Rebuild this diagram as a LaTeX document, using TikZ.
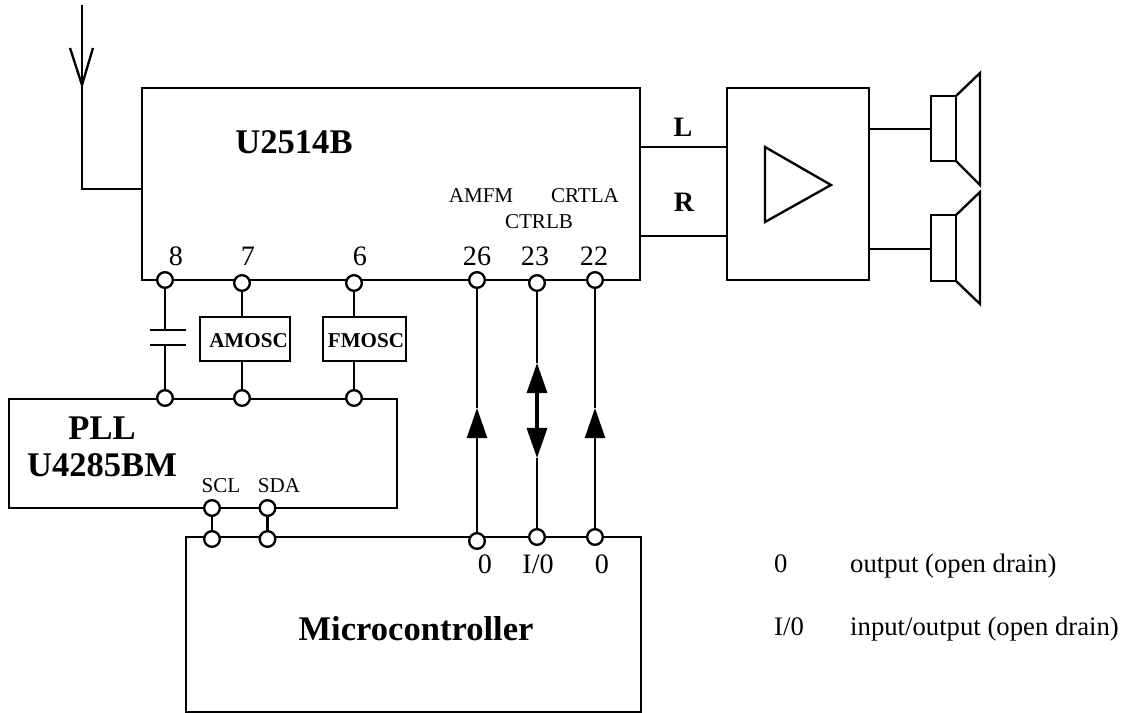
\documentclass[tikz,border=0pt]{standalone}
\usepackage{fontspec}
\setmainfont{Liberation Serif}
\usetikzlibrary{arrows.meta,positioning}
\tikzset{
  wire/.style={line width=2pt},
  pin/.style={circle, draw, fill=white, line width=2pt, inner sep=0pt, minimum size=0.47cm},
  blockbox/.style={draw, line width=2pt, fill=white, inner sep=0pt},
  tiptri/.style={-{Triangle[length=0.9cm,width=0.6cm]}},
  chiplabel/.style={font=\bfseries\fontsize{29.5}{31}\selectfont, align=center},
  osclabel/.style={font=\bfseries\fontsize{18}{18}\selectfont},
  siglabel/.style={font=\fontsize{18}{18}\selectfont},
  pinlabel/.style={font=\fontsize{24}{24}\selectfont},
  legendlabel/.style={font=\fontsize{22.8}{22.8}\selectfont, anchor=base west, inner sep=0pt}
}

\begin{document}
\begin{tikzpicture}[x=0.03cm,y=-0.03cm]
  \useasboundingbox (0,0) rectangle (1126,713);
  % main blocks
  \node[blockbox, minimum width=14.94cm, minimum height=5.76cm] (tuner) at (391,184) {};
  \node[blockbox, minimum width=11.64cm, minimum height=3.27cm] (pll) at (203,453.5) {};
  \node[blockbox, minimum width=4.26cm, minimum height=5.76cm] (amp) at (798,184) {};
  \node[blockbox, minimum width=2.7cm, minimum height=1.32cm] (amosc) at (245,339) {};
  \node[blockbox, minimum width=2.49cm, minimum height=1.32cm] (fmosc) at (364.5,339) {};
  \node[blockbox, minimum width=13.65cm, minimum height=5.25cm] (mcu) at (413.5,624.5) {};
  % pins
  \foreach \name/\x/\y in {
    p8/165/280, p7/242/283, p6/354/283,
    p26/477/280, p23/537/283, p22/595/280,
    q8/165/398, q7/242/398, q6/354/398,
    scl/212/508, sda/267.5/508, mscl/212/539, msda/267.5/539,
    m26/477/541, m23/537/537, m22/595/537} {
    \node[pin] (\name) at (\x,\y) {};
  }
  % antenna
  \coordinate (antTop) at (82,5);
  \coordinate (antTip) at (82,85);
  \coordinate (antCorner) at (82,189);
  \coordinate (antL) at (70,48);
  \coordinate (antR) at (93,48);
  \coordinate (tunerIn) at (142,189);
  \draw[wire] (antTop) -- (antCorner) -- (tunerIn);
  \draw[wire, line join=miter] (antL) -- (antTip) -- (antR);
  % capacitor and oscillators
  \coordinate (capT) at (165,330);
  \coordinate (capB) at (165,345);
  \draw[wire] (p8) -- (capT);
  \draw[wire] (capB) -- (q8);
  \draw[wire] (150,330) -- (186,330);
  \draw[wire] (150,345) -- (186,345);
  \draw[wire] (p7) -- (p7 |- amosc.north);
  \draw[wire] (q7) -- (q7 |- amosc.south);
  \draw[wire] (p6) -- (p6 |- fmosc.north);
  \draw[wire] (q6) -- (q6 |- fmosc.south);
  \draw[wire] (scl) -- (mscl);
  \draw[wire] (sda) -- (msda);
  % control lines
  \coordinate (up26) at (477,408);
  \coordinate (up22) at (595,408);
  \coordinate (up23) at (537,363);
  \coordinate (down23) at (537,458);
  \draw[wire] (up26) -- (p26);
  \draw[wire] (up22) -- (p22);
  \draw[wire] (p23) -- (up23);
  \draw[wire] (down23) -- (m23);
  \draw[wire, tiptri] (m26) -- (up26);
  \draw[wire, tiptri] (m22) -- (up22);
  \draw[line width=2.8pt, {Triangle[length=0.9cm,width=0.6cm]}-{Triangle[length=0.9cm,width=0.6cm]}] (up23) -- (down23);
  % audio path
  \coordinate (lineL) at (640,147);
  \coordinate (lineR) at (640,236);
  \draw[wire] (lineL) -- (lineL -| amp.west);
  \draw[wire] (lineR) -- (lineR -| amp.west);
  \draw[wire, line join=miter] (765,147) -- (765,222) -- (831,185) -- cycle;
  % speakers
  \foreach \name/\y/\ytop/\ybot/\yconea/\yconeb in {
    spkA/129/96/161/73/185,
    spkB/249/215/281/192/304} {
    \draw[wire, line join=miter] (931,\ytop) rectangle (956,\ybot);
    \draw[wire, line join=miter] (956,\ytop) -- (980,\yconea) -- (980,\yconeb) -- (956,\ybot);
    \coordinate (\name) at (931,\y);
    \draw[wire] (\name -| amp.east) -- (\name);
  }
  % labels
  \node[chiplabel] (tunername) at (294,142) {U2514B};
  \node[chiplabel] (pllname) at (102,447) {PLL\\U4285BM};
  \node[chiplabel] (mcuname) at (416,629) {Microcontroller};
  \node[osclabel] (amtext) at (248.5,341) {AMOSC};
  \node[osclabel] (fmtext) at (366,341) {FMOSC};
  \node[font=\bfseries\fontsize{24}{24}\selectfont] (ltext) at (683,127) {L};
  \node[font=\bfseries\fontsize{24}{24}\selectfont] (rtext) at (684,202) {R};
  \foreach \name/\x/\y/\txt in {
    amfm/481/196/AMFM, crtla/585/196/CRTLA, ctrlb/539/222/CTRLB,
    scltext/221/486/SCL, sdatext/279/486/SDA} {
    \node[siglabel] (\name) at (\x,\y) {\txt};
  }
  \foreach \name/\x/\y/\txt in {
    n8/176/256/8, n7/248/256/7, n6/360/256/6,
    n26/477/256/26, n23/535/256/23, n22/594/256/22,
    o26/485/564/0, o23/538/564/{I/0}, o22/602/564/0} {
    \node[pinlabel] (\name) at (\x,\y) {\txt};
  }
  % legend
  \node[legendlabel] (keyO) at (774,572) {0};
  \node[legendlabel] (keyIO) at (774,635) {I/0};
  \node[legendlabel] (keyOtext) at (850,572) {output (open drain)};
  \node[legendlabel] (keyIOtext) at (850,635) {input/output (open drain)};
\end{tikzpicture}
\end{document}
